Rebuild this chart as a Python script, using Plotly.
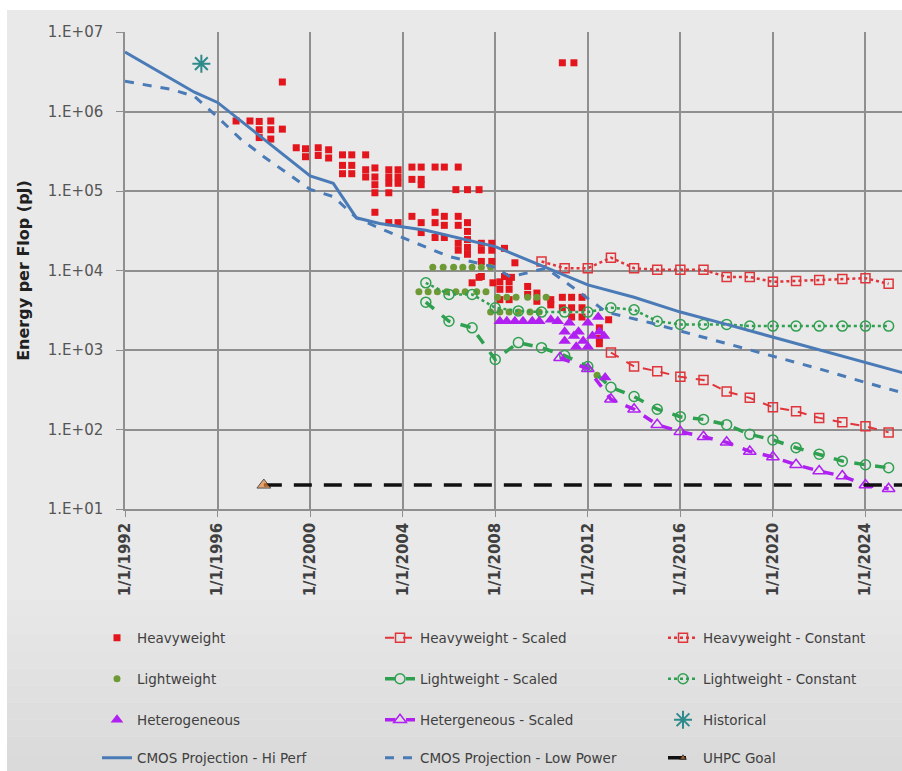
import plotly.graph_objects as go

# ---------------- data (decimal years, pJ) ----------------
hw_year = [1998.8, 1996.8, 1997.4, 1997.8, 1997.8, 1997.8, 1998.3, 1998.3, 1998.3, 1998.8,
           1999.4, 1999.8, 1999.8, 2000.35, 2000.35, 2000.8, 2000.8,
           2001.4, 2001.4, 2001.4, 2001.8, 2001.8, 2001.8, 2002.4, 2002.4, 2002.4,
           2002.8, 2002.8, 2002.8, 2002.8, 2002.8, 2003.4, 2003.4, 2003.4, 2003.4, 2003.4,
           2003.8, 2003.8, 2003.8, 2003.8, 2004.4, 2004.4, 2004.4,
           2004.8, 2004.8, 2004.8, 2004.8, 2004.8, 2005.4, 2005.4, 2005.4, 2005.4,
           2005.8, 2005.8, 2005.8, 2005.8, 2006.4, 2006.3, 2006.4, 2006.4, 2006.4, 2006.4,
           2006.8, 2006.8, 2006.8, 2006.8, 2006.8, 2006.8, 2007.3, 2007.4, 2007.4, 2007.4, 2007.4,
           2007.85, 2007.85, 2007.85, 2008.4, 2008.4, 2008.85,
           2007.0, 2007.3, 2007.9, 2008.2, 2008.2, 2008.2, 2008.6, 2008.6, 2008.6, 2008.7,
           2009.4, 2009.4, 2009.8, 2009.8, 2010.4, 2010.4, 2010.9, 2010.9,
           2011.3, 2011.3, 2011.3, 2011.75, 2011.75, 2011.75,
           2012.5, 2012.9, 2012.5, 2012.5, 2010.9, 2011.4]
hw_val = [2.35e6, 7.6e5, 7.6e5, 7.5e5, 5.9e5, 4.7e5, 7.6e5, 5.9e5, 4.5e5, 6.0e5,
          3.5e5, 3.4e5, 2.7e5, 3.5e5, 2.8e5, 3.3e5, 2.6e5,
          2.85e5, 2.1e5, 1.65e5, 2.85e5, 2.1e5, 1.65e5, 2.85e5, 1.85e5, 1.5e5,
          1.95e5, 1.5e5, 1.2e5, 9.5e4, 5.4e4, 1.85e5, 1.5e5, 1.25e5, 9.5e4, 4.0e4,
          1.85e5, 1.5e5, 1.25e5, 4.0e4, 2.0e5, 1.4e5, 4.8e4,
          2.0e5, 1.4e5, 1.2e5, 4.0e4, 3.0e4, 2.0e5, 5.4e4, 4.0e4, 2.6e4,
          2.0e5, 4.8e4, 3.7e4, 2.6e4, 2.0e5, 1.04e5, 4.8e4, 3.7e4, 2.2e4, 1.8e4,
          1.04e5, 4.0e4, 3.1e4, 2.45e4, 1.95e4, 1.6e4, 1.04e5, 2.2e4, 1.8e4, 1.3e4, 8.4e3,
          2.2e4, 1.8e4, 1.3e4, 1.9e4, 8.4e3, 1.25e4,
          7.0e3, 8.2e3, 7.0e3, 7.2e3, 5.8e3, 4.3e3, 7.2e3, 5.8e3, 4.3e3, 8.2e3,
          6.3e3, 5.0e3, 5.2e3, 4.1e3, 4.3e3, 3.7e3, 4.6e3, 3.4e3,
          4.6e3, 3.4e3, 2.6e3, 4.6e3, 3.4e3, 2.6e3,
          1.9e3, 2.4e3, 1.4e3, 1.2e3, 4.1e6, 4.1e6]

lw_year = [2005.3, 2005.75, 2006.2, 2006.6, 2007.0, 2007.4, 2007.8,
           2004.7, 2005.1, 2005.5, 2005.9, 2006.3, 2006.7, 2007.2, 2007.6,
           2008.1, 2008.5, 2008.9, 2009.4, 2009.8, 2010.2,
           2007.8, 2008.2, 2008.6, 2009.0, 2009.5, 2009.9, 2012.4]
lw_val = [1.1e4, 1.1e4, 1.1e4, 1.1e4, 1.1e4, 1.1e4, 1.1e4,
          5.4e3, 5.4e3, 5.4e3, 5.4e3, 5.4e3, 5.4e3, 5.4e3, 5.4e3,
          4.6e3, 4.6e3, 4.6e3, 4.6e3, 4.6e3, 4.6e3,
          3.0e3, 3.0e3, 3.0e3, 3.0e3, 3.0e3, 3.0e3, 4.8e2]

het_year = [2008.2, 2008.5, 2008.85, 2009.2, 2009.6, 2009.9, 2010.4, 2010.7, 2011.0, 2011.0,
            2011.2, 2011.4, 2011.5, 2011.6, 2011.8, 2012.0, 2012.0, 2012.2, 2012.45, 2012.5,
            2012.7, 2012.75]
het_val = [2.3e3, 2.3e3, 2.3e3, 2.3e3, 2.3e3, 2.3e3, 2.4e3, 2.3e3, 1.7e3, 1.3e3,
           2.2e3, 1.5e3, 1.1e3, 1.7e3, 1.3e3, 2.2e3, 1.1e3, 1.5e3, 2.6e3, 1.7e3,
           1.5e3, 4.5e2]

hws_year = [2013, 2014, 2015, 2016, 2017, 2018, 2019, 2020, 2021, 2022, 2023, 2024, 2025]
hws_val = [9.3e2, 6.2e2, 5.4e2, 4.6e2, 4.2e2, 3.0e2, 2.5e2, 1.9e2, 1.7e2, 1.4e2, 1.23e2, 1.1e2, 92]

hwc_year = [2010, 2011, 2012, 2013, 2014, 2015, 2016, 2017, 2018, 2019, 2020, 2021, 2022, 2023, 2024, 2025]
hwc_val = [1.3e4, 1.07e4, 1.07e4, 1.45e4, 1.07e4, 1.02e4, 1.02e4, 1.02e4, 8.3e3, 8.3e3, 7.2e3,
           7.4e3, 7.6e3, 7.8e3, 8.0e3, 6.8e3]

lws_year = [2005, 2006, 2007, 2008, 2009, 2010, 2011, 2012, 2013, 2014, 2015, 2016, 2017, 2018,
            2019, 2020, 2021, 2022, 2023, 2024, 2025]
lws_val = [4.0e3, 2.3e3, 1.9e3, 7.6e2, 1.24e3, 1.07e3, 8.5e2, 6.2e2, 3.4e2, 2.6e2, 1.8e2, 1.45e2,
           1.34e2, 1.15e2, 87, 74, 59, 49, 40, 36, 33]

lwc_year = [2005, 2006, 2007, 2008, 2009, 2010, 2011, 2012, 2013, 2014, 2015, 2016, 2017, 2018,
            2019, 2020, 2021, 2022, 2023, 2024, 2025]
lwc_val = [7.0e3, 5.0e3, 5.0e3, 3.4e3, 3.1e3, 3.0e3, 3.0e3, 3.0e3, 3.4e3, 3.2e3, 2.3e3, 2.1e3,
           2.1e3, 2.1e3, 2.0e3, 2.0e3, 2.0e3, 2.0e3, 2.0e3, 2.0e3, 2.0e3]

hets_year = [2010.8, 2012, 2013, 2014, 2015, 2016, 2017, 2018, 2019, 2020, 2021, 2022, 2023, 2024, 2025]
hets_val = [8.0e2, 5.8e2, 2.4e2, 1.8e2, 1.15e2, 94, 81, 69, 53, 45, 36, 30, 26, 20, 18]

hist_year = [1995.3]
hist_val = [4.0e6]

cmos_hp_year = [1992, 1994, 1995, 1996, 2000, 2001, 2002, 2003, 2005, 2008, 2010, 2012, 2014,
                2016, 2018, 2020, 2022, 2024, 2025.6]
cmos_hp_val = [5.6e6, 2.6e6, 1.75e6, 1.3e6, 1.55e5, 1.25e5, 4.6e4, 3.9e4, 3.2e4, 2.0e4, 1.15e4,
               6.6e3, 4.6e3, 3.0e3, 2.1e3, 1.45e3, 1.0e3, 7.0e2, 5.2e2]

cmos_lp_year = [1992, 1994, 1995, 1996, 1997, 1998, 2000, 2001, 2002, 2003, 2006, 2008, 2008.65,
                2010.2, 2011.5, 2012.8, 2014.7, 2017, 2020, 2022, 2024, 2025.6]
cmos_lp_val = [2.4e6, 1.9e6, 1.55e6, 8.5e5, 4.5e5, 2.7e5, 1.05e5, 8.5e4, 4.6e4, 3.4e4, 1.5e4,
               1.1e4, 8.3e3, 1.07e4, 5.7e3, 3.0e3, 2.2e3, 1.45e3, 8.3e2, 5.8e2, 3.9e2, 2.9e2]

goal_year = [1998, 2025.6]
goal_val = [20, 20]

tick_years = [1992, 1996, 2000, 2004, 2008, 2012, 2016, 2020, 2024]
tick_text = ["1/1/" + str(y) for y in tick_years]
ytick_vals = [1e1, 1e2, 1e3, 1e4, 1e5, 1e6, 1e7]
ytick_text = ["1.E+01", "1.E+02", "1.E+03", "1.E+04", "1.E+05", "1.E+06", "1.E+07"]

# ---------------- styling ----------------
RED = "#E3161E"
RED2 = "#E0353A"
OLIVE = "#6E9A35"
GREEN = "#2FA050"
PURPLE = "#B020F0"
TEAL = "#2F8A8C"
BLUE = "#4A7BB7"
ORANGE = "#E8863A"

fig = go.Figure()

def add(x, y, name, legend, **kw):
    fig.add_trace(go.Scatter(x=x, y=y, name=name, legend=legend, **kw))

# row 1
add(hw_year, hw_val, "Heavyweight", "legend", mode="markers",
    marker=dict(symbol="square", size=7, color=RED))
add(hws_year, hws_val, "Heavyweight - Scaled", "legend", mode="lines+markers",
    line=dict(color=RED2, width=2, dash="dash"),
    marker=dict(symbol="square-open", size=9, color=RED2, line=dict(width=1.5)))
add(hwc_year, hwc_val, "Heavyweight - Constant", "legend", mode="lines+markers",
    line=dict(color=RED2, width=2.5, dash="dot"),
    marker=dict(symbol="square-open", size=9, color=RED2, line=dict(width=1.5)))
# row 2
add(lw_year, lw_val, "Lightweight", "legend2", mode="markers",
    marker=dict(symbol="circle", size=7, color=OLIVE))
add(lws_year, lws_val, "Lightweight - Scaled", "legend2", mode="lines+markers",
    line=dict(color=GREEN, width=3.5, dash="dash"),
    marker=dict(symbol="circle-open", size=10, color=GREEN, line=dict(width=1.5)))
add(lwc_year, lwc_val, "Lightweight - Constant", "legend2", mode="lines+markers",
    line=dict(color=GREEN, width=2.5, dash="dot"),
    marker=dict(symbol="circle-open", size=10, color=GREEN, line=dict(width=1.5)))
# row 3
add(het_year, het_val, "Heterogeneous", "legend3", mode="markers",
    marker=dict(symbol="triangle-up", size=11, color=PURPLE))
add(hets_year, hets_val, "Hetergeneous - Scaled", "legend3", mode="lines+markers",
    line=dict(color=PURPLE, width=3.5, dash="dash"),
    marker=dict(symbol="triangle-up-open", size=11, color=PURPLE, line=dict(width=1.5)))
add(hist_year, hist_val, "Historical", "legend3", mode="markers",
    marker=dict(symbol="asterisk-open", size=15, color=TEAL, line=dict(width=2, color=TEAL)))
# row 4
add(cmos_hp_year, cmos_hp_val, "CMOS Projection - Hi Perf", "legend4", mode="lines",
    line=dict(color=BLUE, width=3))
add(cmos_lp_year, cmos_lp_val, "CMOS Projection - Low Power", "legend4", mode="lines",
    line=dict(color=BLUE, width=3, dash="dash"))
add(goal_year, goal_val, "UHPC Goal", "legend4", mode="lines+markers",
    line=dict(color="#111111", width=3.5, dash="18px,12px"),
    marker=dict(symbol="triangle-up", size=[12, 0], color=ORANGE))

W, H = 902, 771
L, R, T, B = 125, 0, 32, 262
pw, ph = W - L - R, H - T - B

def px_x(x):
    return (x - L) / pw

def px_y(y):
    return (H - B - y) / ph

FONT = "DejaVu Sans"
legend_common = dict(orientation="h", entrywidth=238, entrywidthmode="pixels",
                     bgcolor="rgba(0,0,0,0)", font=dict(family=FONT, size=13.5, color="#404040"),
                     xanchor="left", yanchor="middle", x=px_x(97), itemclick=False,
                     borderwidth=0)

layout_legends = {}
for key, ypx in zip(["legend", "legend2", "legend3", "legend4"], [638, 679, 720, 758]):
    layout_legends[key] = dict(legend_common, y=px_y(ypx))

# background: white frame + gray panel with soft gradient toward the bottom
shapes = [dict(type="rect", xref="paper", yref="paper", layer="below",
               x0=px_x(7), x1=1.0, y0=px_y(771), y1=px_y(10),
               fillcolor="#e9e9e9", line=dict(width=0))]
band_top = 600
n_bands = 10
for i in range(n_bands):
    y0 = band_top + i * (771 - band_top) / n_bands
    y1 = band_top + (i + 1) * (771 - band_top) / n_bands
    g = int(233 - (233 - 218) * (i + 1) / n_bands)
    shapes.append(dict(type="rect", xref="paper", yref="paper", layer="below",
                       x0=px_x(7), x1=1.0, y0=px_y(y1), y1=px_y(y0),
                       fillcolor=f"rgb({g},{g},{g})", line=dict(width=0)))

fig.update_layout(
    width=W, height=H,
    margin=dict(l=L, r=R, t=T, b=B, autoexpand=False),
    paper_bgcolor="white",
    plot_bgcolor="#ebebeb",
    showlegend=True,
    font=dict(family=FONT, color="#404040"),
    **layout_legends,
    shapes=shapes,
)

fig.update_xaxes(
    range=[1992, 1992 + (W - L) / 23.14], type="linear",
    tickmode="array", tickvals=tick_years, ticktext=["<b>" + t + "</b>" for t in tick_text],
    tickangle=-90, tickfont=dict(family=FONT, size=15, color="#404040"),
    showgrid=True, gridcolor="#8f8f8f", gridwidth=1.5,
    ticks="outside", ticklen=6, tickcolor="#8f8f8f",
    showline=True, linecolor="#8f8f8f", linewidth=1.5, zeroline=False,
)
fig.update_yaxes(
    type="log", range=[1, 7],
    tickmode="array", tickvals=ytick_vals, ticktext=ytick_text,
    tickfont=dict(family=FONT, size=15, color="#555555"),
    ticklabelstandoff=10,
    showgrid=True, gridcolor="#8f8f8f", gridwidth=1.5,
    ticks="outside", ticklen=7, tickcolor="#8f8f8f",
    showline=True, linecolor="#8f8f8f", linewidth=1.5, zeroline=False,
    title=dict(text="<b>Energy per Flop (pJ)</b>", font=dict(family=FONT, size=16, color="#202020"),
               standoff=14),
)

fig.write_html("out.html", config={"displayModeBar": False},
               post_script="document.body.style.margin='0';document.body.style.overflow='hidden';")
